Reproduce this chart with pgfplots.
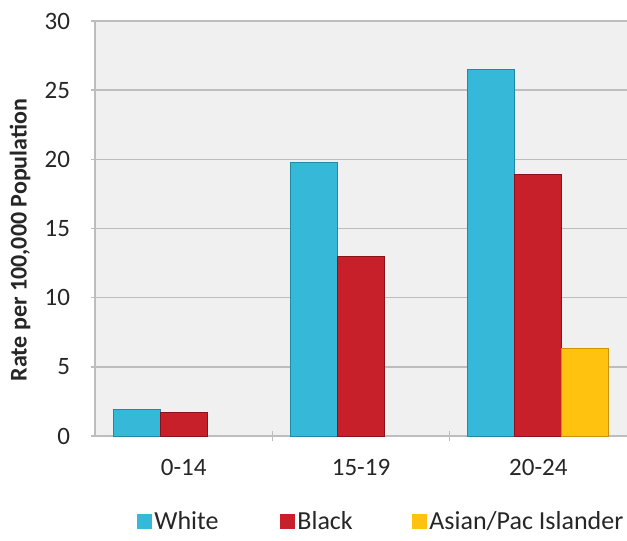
\documentclass[border=0pt]{standalone}
\usepackage{pgfplots}
\pgfplotsset{compat=1.18}
\usepackage{fontspec}
\setmainfont{Carlito}
\definecolor{cW}{HTML}{36B9D9}
\definecolor{cWd}{HTML}{1F8AA6}
\definecolor{cB}{HTML}{C8202A}
\definecolor{cBd}{HTML}{8A1319}
\definecolor{cA}{HTML}{FFC20E}
\definecolor{cAd}{HTML}{C99400}
\definecolor{bg}{HTML}{F0F0F0}
\definecolor{gridc}{HTML}{BDBDBD}
\definecolor{txt}{HTML}{262626}
\begin{document}
\begin{tikzpicture}
\begin{axis}[
  scale only axis,
  width=266pt, height=207.5pt,
  /pgf/number format/assume math mode=true,
  ybar=0pt, bar width=23.5pt,
  xmin=-0.5, xmax=2.5, ymin=0, ymax=30,
  ytick={0,5,...,30},
  xtick={0,1,2}, xticklabels={0-14,15-19,20-24},
  minor xtick={0.5,1.5},
  major x tick style={draw=none},
  minor x tick style={gridc, line width=0.75pt},
  minor tick length=5pt,
  major tick length=4pt,
  tick align=outside,
  ytick style={gridc, line width=0.75pt},
  axis lines=left,
  axis line style={-, gridc, line width=0.75pt},
  axis background/.style={fill=bg},
  ymajorgrids, grid style={gridc, line width=0.75pt},
  tick label style={font=\fontsize{12.5}{14}\selectfont, text=txt},
  yticklabel style={xshift=-7pt},
  xticklabel style={yshift=-6pt},
  every axis y label/.style={at={(axis description cs:-0.141,0.472)}, rotate=90, anchor=center},
  ylabel={\bfseries Rate per 100,000 Population},
  ylabel style={font=\fontsize{12}{14}\selectfont, text=txt},
  legend columns=3,
  legend style={at={(axis description cs:0.079,-0.207)}, anchor=west, draw=none, fill=none, inner sep=0pt, nodes={inner sep=0pt}, font=\fontsize{13}{15}\selectfont, text=txt, /tikz/every even column/.append style={column sep=0pt}, /tikz/every odd column/.append style={column sep=1pt}},
  legend image code/.code={\draw[#1, draw=none] (0pt,-3.75pt) rectangle (7.5pt,3.75pt);},
  legend cell align=left,
]
\addplot[fill=cW, draw=cWd, line width=0.5pt] coordinates {(0,1.9) (1,19.8) (2,26.5)};
\addplot[fill=cB, draw=cBd, line width=0.5pt] coordinates {(0,1.7) (1,13.0) (2,18.9)};
\addplot[fill=cA, draw=cAd, line width=0.5pt] coordinates {(2,6.3)};
\legend{\makebox[63pt][l]{White},\makebox[57.5pt][l]{Black},Asian/Pac Islander}
\coordinate (O) at (rel axis cs:0,0);
\end{axis}
\pgfresetboundingbox
\path (O) ++(-47.5pt,-52.5pt) rectangle ++(313.5pt,270.5pt);
\end{tikzpicture}
\end{document}
